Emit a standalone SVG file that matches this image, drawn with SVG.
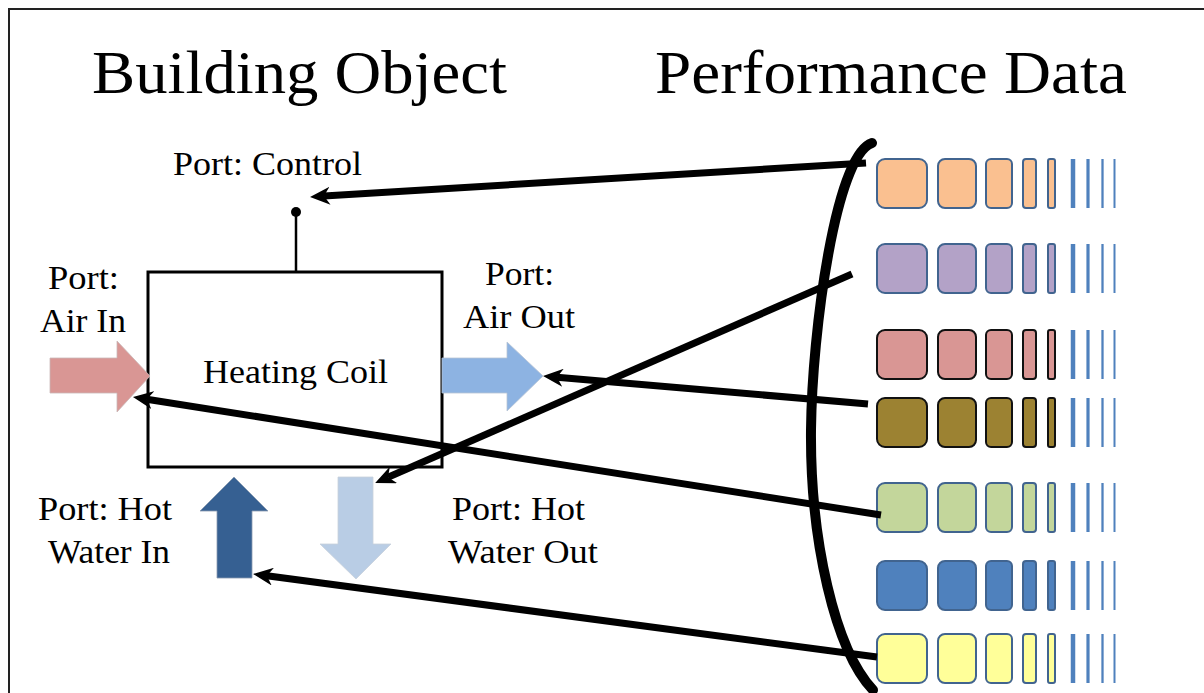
<svg xmlns="http://www.w3.org/2000/svg" xmlns:xlink="http://www.w3.org/1999/xlink" width="1204" height="693" viewBox="0 0 1204 693">
<style>
text{font-family:"Liberation Serif","Times New Roman",serif;fill:#000}
.title{font-size:61px}
.lbl{font-size:33px}
.conn{stroke:#000;stroke-width:7;fill:none;marker-end:url(#ah)}
.bar{stroke:#4F81BD}
</style>
<defs>
<marker id="ah" markerUnits="userSpaceOnUse" viewBox="0 0 20 18" markerWidth="20" markerHeight="18" refX="6" refY="9" orient="auto">
<path d="M0,0 L20,9 L0,18 L6,9 Z" fill="#000"/>
</marker>
<g id="cells" stroke-width="2">
<rect x="877" y="0" width="50" height="49" rx="8"/>
<rect x="938" y="0" width="38" height="49" rx="7"/>
<rect x="986" y="0" width="26" height="49" rx="5"/>
<rect x="1023" y="0" width="13" height="49" rx="3"/>
<rect x="1048" y="0" width="7" height="49" rx="2"/>
<line class="bar" x1="1073" y1="0" x2="1073" y2="49" stroke-width="4.5"/>
<line class="bar" x1="1088" y1="0" x2="1088" y2="49" stroke-width="3.2"/>
<line class="bar" x1="1102.5" y1="0" x2="1102.5" y2="49" stroke-width="2.3"/>
<line class="bar" x1="1114.5" y1="0" x2="1114.5" y2="49" stroke-width="2"/>
</g>
</defs>
<rect x="0" y="0" width="1204" height="693" fill="#fff"/>
<rect x="9" y="9" width="1300" height="800" fill="none" stroke="#222" stroke-width="2"/>

<text class="title" x="92" y="93" textLength="415" lengthAdjust="spacingAndGlyphs">Building Object</text>
<text class="title" x="655" y="93" textLength="472" lengthAdjust="spacingAndGlyphs">Performance Data</text>

<g id="heating-coil">
<rect x="148" y="272" width="294" height="195" fill="#fff" stroke="#000" stroke-width="3"/>
<text class="lbl" x="203" y="383" textLength="185" lengthAdjust="spacingAndGlyphs">Heating Coil</text>
</g>

<g id="port-control">
<line x1="296" y1="272" x2="296" y2="212" stroke="#000" stroke-width="2.5"/>
<circle cx="296" cy="212" r="5" fill="#000"/>
<text class="lbl" x="173" y="175" textLength="189" lengthAdjust="spacingAndGlyphs">Port: Control</text>
</g>

<g id="port-air-in">
<path d="M50,358 H117 V341 L150,376 L117,412 V393 H50 Z" fill="#D99694" stroke="#c9b8b8" stroke-width="0.8"/>
<text class="lbl" x="48" y="289" textLength="71" lengthAdjust="spacingAndGlyphs">Port:</text>
<text class="lbl" x="40" y="332" textLength="86" lengthAdjust="spacingAndGlyphs">Air In</text>
</g>

<g id="port-air-out">
<path d="M442,358 H507 V342 L543,376 L507,411 V393 H442 Z" fill="#8DB3E2" stroke="#b8c4d4" stroke-width="0.8"/>
<text class="lbl" x="485" y="285" textLength="69" lengthAdjust="spacingAndGlyphs">Port:</text>
<text class="lbl" x="463" y="328" textLength="112" lengthAdjust="spacingAndGlyphs">Air Out</text>
</g>

<g id="port-hot-water-in">
<path d="M234,477 L268,511 H252 V578 H217 V511 H200 Z" fill="#366092" stroke="#8a9ab0" stroke-width="0.8"/>
<text class="lbl" x="38" y="520" textLength="134" lengthAdjust="spacingAndGlyphs">Port: Hot</text>
<text class="lbl" x="48" y="563" textLength="122" lengthAdjust="spacingAndGlyphs">Water In</text>
</g>

<g id="port-hot-water-out">
<path d="M338,477 H373 V544 H391 L356,579 L320,544 H338 Z" fill="#B9CDE5" stroke="#c8d0da" stroke-width="0.8"/>
<text class="lbl" x="452" y="520" textLength="133" lengthAdjust="spacingAndGlyphs">Port: Hot</text>
<text class="lbl" x="448" y="563" textLength="150" lengthAdjust="spacingAndGlyphs">Water Out</text>
</g>

<g id="performance-data">
<path d="M872,143 C836,155 812,330 811,430 C810,540 835,650 873,690" fill="none" stroke="#000" stroke-width="10" stroke-linecap="round"/>
<g id="row-orange"><use xlink:href="#cells" y="159" fill="#FAC090" stroke="#41648F"/></g>
<g id="row-purple"><use xlink:href="#cells" y="244" fill="#B3A2C7" stroke="#41648F"/></g>
<g id="row-red"><use xlink:href="#cells" y="330" fill="#D99694" stroke="#111"/></g>
<g id="row-olive"><use xlink:href="#cells" y="398" fill="#9C8232" stroke="#111"/></g>
<g id="row-green"><use xlink:href="#cells" y="483" fill="#C3D69B" stroke="#41648F"/></g>
<g id="row-blue"><use xlink:href="#cells" y="561" fill="#4F81BD" stroke="#41648F"/></g>
<g id="row-yellow"><use xlink:href="#cells" y="634" fill="#FFFF99" stroke="#41648F"/></g>
</g>

<g id="connectors">
<line class="conn" x1="866" y1="163" x2="324" y2="196.1"/>
<line class="conn" x1="852" y1="274" x2="388" y2="477.3"/>
<line class="conn" x1="868" y1="404" x2="557" y2="377.2"/>
<line class="conn" x1="881" y1="515" x2="146.8" y2="399.2"/>
<line class="conn" x1="877" y1="657" x2="266.9" y2="575.8"/>
</g>
</svg>
